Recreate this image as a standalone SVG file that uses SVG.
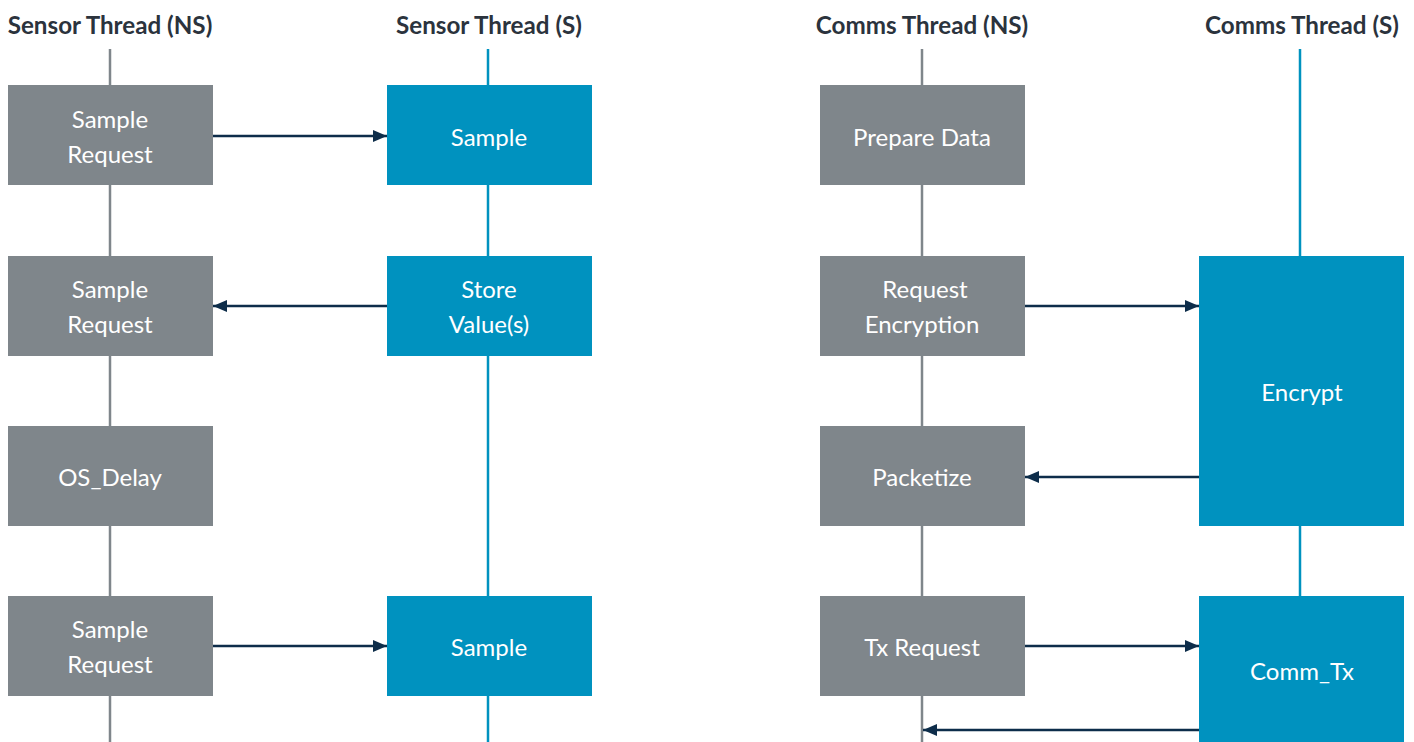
<svg xmlns="http://www.w3.org/2000/svg" width="1414" height="742" viewBox="0 0 1414 742">
<defs>
<style>
.hdr{font-family:Lato,"Open Sans","Liberation Sans",sans-serif;font-weight:bold;font-size:24.2px;fill:#2b333d;text-anchor:middle}
.lbl{font-family:Lato,"Open Sans","Liberation Sans",sans-serif;font-size:24px;fill:#ffffff;text-anchor:middle}
.ns{fill:#7f868b}
.s{fill:#0092bf}
.lns{stroke:#7f868b;stroke-width:2.5}
.ls{stroke:#0092bf;stroke-width:2.5}
.arr{stroke:#0d2d4a;stroke-width:2.5;fill:none;marker-end:url(#ah)}
</style>
<marker id="ah" markerWidth="14" markerHeight="12" refX="14" refY="6" orient="auto" markerUnits="userSpaceOnUse">
<path d="M0,0 L14,6 L0,12 Z" fill="#0d2d4a"/>
</marker>
</defs>
<rect width="1414" height="742" fill="#ffffff"/>
<g id="lifelines">
<line class="lns" x1="110" y1="49" x2="110" y2="742"/>
<line class="ls" x1="488" y1="49" x2="488" y2="742"/>
<line class="lns" x1="922" y1="49" x2="922" y2="742"/>
<line class="ls" x1="1300" y1="49" x2="1300" y2="742"/>
</g>
<g id="headers">
<text class="hdr" x="110" y="34">Sensor Thread (NS)</text>
<text class="hdr" x="489" y="34">Sensor Thread (S)</text>
<text class="hdr" x="922" y="34">Comms Thread (NS)</text>
<text class="hdr" x="1302" y="34">Comms Thread (S)</text>
</g>
<g id="sr1"><rect class="ns" x="8" y="85" width="205" height="100"/><text class="lbl" x="110" y="128">Sample</text><text class="lbl" x="110" y="163">Request</text></g>
<g id="sr2"><rect class="ns" x="8" y="256" width="205" height="100"/><text class="lbl" x="110" y="298">Sample</text><text class="lbl" x="110" y="333">Request</text></g>
<g id="osdelay"><rect class="ns" x="8" y="426" width="205" height="100"/><text class="lbl" x="110" y="486">OS_Delay</text></g>
<g id="sr3"><rect class="ns" x="8" y="596" width="205" height="100"/><text class="lbl" x="110" y="638">Sample</text><text class="lbl" x="110" y="673">Request</text></g>
<g id="sample1"><rect class="s" x="387" y="85" width="205" height="100"/><text class="lbl" x="489" y="146">Sample</text></g>
<g id="store"><rect class="s" x="387" y="256" width="205" height="100"/><text class="lbl" x="489" y="298">Store</text><text class="lbl" x="489" y="333">Value(s)</text></g>
<g id="sample2"><rect class="s" x="387" y="596" width="205" height="100"/><text class="lbl" x="489" y="656">Sample</text></g>
<g id="prepare"><rect class="ns" x="820" y="85" width="205" height="100"/><text class="lbl" x="922" y="146">Prepare Data</text></g>
<g id="reqenc"><rect class="ns" x="820" y="256" width="205" height="100"/><text class="lbl" x="925" y="298">Request</text><text class="lbl" x="922" y="333">Encryption</text></g>
<g id="packetize"><rect class="ns" x="820" y="426" width="205" height="100"/><text class="lbl" x="922" y="486">Packetize</text></g>
<g id="txreq"><rect class="ns" x="820" y="596" width="205" height="100"/><text class="lbl" x="922" y="656">Tx Request</text></g>
<g id="encrypt"><rect class="s" x="1199" y="256" width="205" height="270"/><text class="lbl" x="1302" y="401">Encrypt</text></g>
<g id="commtx"><rect class="s" x="1199" y="596" width="205" height="146"/><text class="lbl" x="1302" y="680">Comm_Tx</text></g>
<g id="connectors">
<line class="arr" x1="213" y1="136" x2="387" y2="136"/>
<line class="arr" x1="387" y1="306" x2="213" y2="306"/>
<line class="arr" x1="213" y1="646" x2="387" y2="646"/>
<line class="arr" x1="1025" y1="306" x2="1199" y2="306"/>
<line class="arr" x1="1199" y1="477" x2="1025" y2="477"/>
<line class="arr" x1="1025" y1="646" x2="1199" y2="646"/>
<line class="arr" x1="1199" y1="730" x2="923" y2="730"/>
</g>
</svg>
